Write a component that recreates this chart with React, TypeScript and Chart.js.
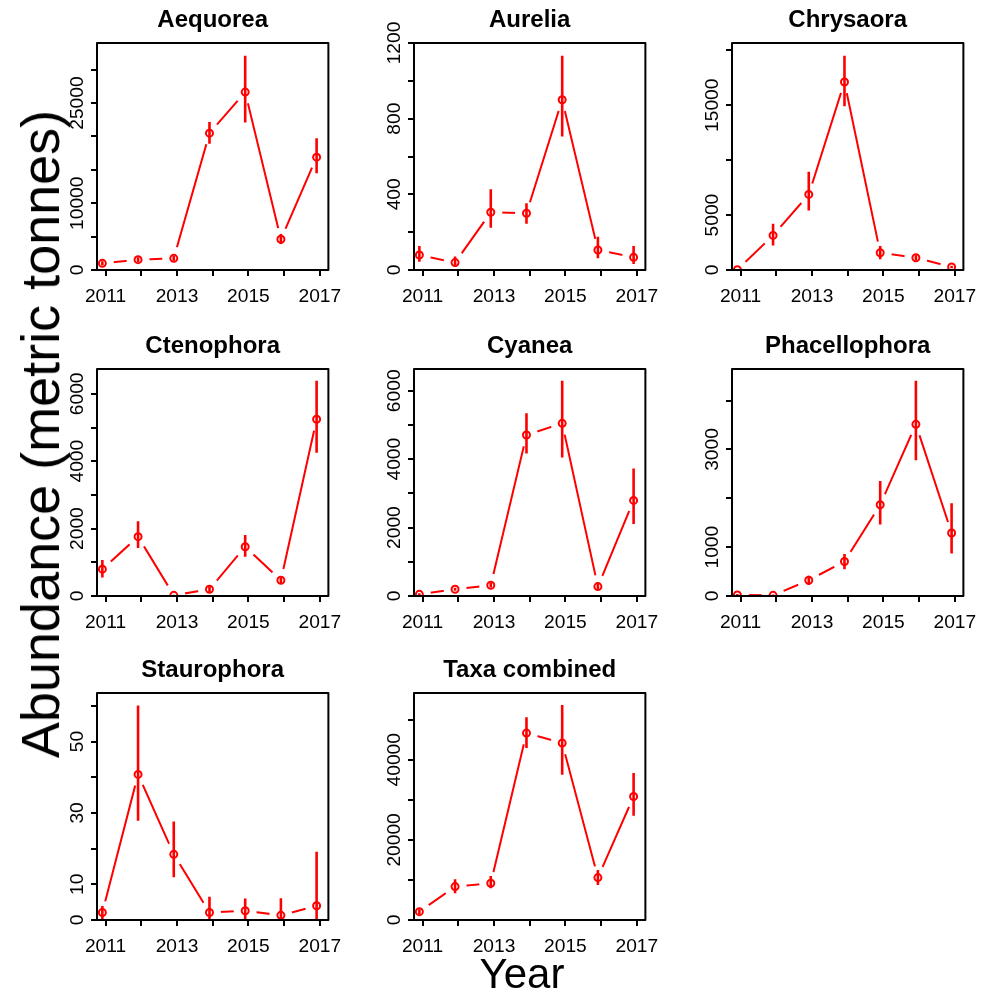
import React, { useEffect, useRef } from 'react';
import { Chart, registerables } from 'chart.js';

Chart.register(...registerables);

// ---------- data ----------
const YEARS = [2011, 2012, 2013, 2014, 2015, 2016, 2017];
const X_LABELED = [2011, 2013, 2015, 2017];
const TAXA = ['Aequorea', 'Aurelia', 'Chrysaora', 'Ctenophora', 'Cyanea', 'Phacellophora', 'Staurophora', 'Taxa combined'];

const AEQUOREA_MEAN = [1000, 1550, 1750, 20500, 26650, 4600, 16900];
const AEQUOREA_LO = [700, 1200, 1400, 18900, 22100, 3900, 14500];
const AEQUOREA_HI = [1300, 1900, 2100, 22150, 32100, 5400, 19750];

const AURELIA_MEAN = [79, 39, 305, 300, 900, 106, 67];
const AURELIA_LO = [44, 18, 224, 244, 706, 62, 32];
const AURELIA_HI = [127, 71, 427, 353, 1133, 176, 127];

const CHRYSAORA_MEAN = [20, 3150, 6880, 17120, 1575, 1120, 270];
const CHRYSAORA_LO = [0, 2240, 5420, 14900, 970, 900, 150];
const CHRYSAORA_HI = [40, 4210, 8940, 19515, 2180, 1340, 390];

const CTENOPHORA_MEAN = [796, 1761, 20, 199, 1463, 468, 5244];
const CTENOPHORA_LO = [547, 1423, 0, 120, 1164, 380, 4249];
const CTENOPHORA_HI = [1065, 2219, 40, 280, 1811, 560, 6388];

const CYANEA_MEAN = [49, 196, 314, 4706, 5049, 275, 2794];
const CYANEA_LO = [20, 150, 250, 4167, 4049, 200, 2108];
const CYANEA_HI = [80, 240, 380, 5343, 6294, 350, 3725];

const PHACELLOPHORA_MEAN = [21, 14, 323, 707, 1867, 3514, 1290];
const PHACELLOPHORA_LO = [5, 0, 226, 549, 1462, 2780, 872];
const PHACELLOPHORA_HI = [40, 30, 412, 858, 2354, 4406, 1901];

const STAUROPHORA_MEAN = [2.1, 40.8, 18.4, 2.1, 2.6, 1.3, 4.0];
const STAUROPHORA_LO = [0.2, 27.8, 12.0, 0, 0, 0, 0];
const STAUROPHORA_HI = [3.9, 60.1, 27.6, 6.5, 6.0, 6.1, 19.1];

const COMBINED_MEAN = [2083, 8333, 9167, 46667, 44167, 10583, 30833];
const COMBINED_LO = [1500, 6667, 7917, 42917, 36250, 8750, 26000];
const COMBINED_HI = [2700, 10167, 11000, 50583, 53667, 12500, 36667];

const MEANS = [AEQUOREA_MEAN, AURELIA_MEAN, CHRYSAORA_MEAN, CTENOPHORA_MEAN, CYANEA_MEAN, PHACELLOPHORA_MEAN, STAUROPHORA_MEAN, COMBINED_MEAN];
const LOWERS = [AEQUOREA_LO, AURELIA_LO, CHRYSAORA_LO, CTENOPHORA_LO, CYANEA_LO, PHACELLOPHORA_LO, STAUROPHORA_LO, COMBINED_LO];
const UPPERS = [AEQUOREA_HI, AURELIA_HI, CHRYSAORA_HI, CTENOPHORA_HI, CYANEA_HI, PHACELLOPHORA_HI, STAUROPHORA_HI, COMBINED_HI];

// axis settings per panel
const Y_MAX = [34000, 1200, 20667, 6736, 6637, 4647, 63.6, 56667];
const Y_STEP = [5000, 200, 5000, 1000, 1000, 1000, 10, 10000];
const Y_LABELED = [
  [0, 10000, 25000],
  [0, 400, 800, 1200],
  [0, 5000, 15000],
  [0, 2000, 4000, 6000],
  [0, 2000, 4000, 6000],
  [0, 1000, 3000],
  [0, 10, 30, 50],
  [0, 20000, 40000],
];

// ---------- style / layout ----------
const RED = '#ff0000';
const FONT = "'Liberation Sans', Arial, sans-serif";
const DODGE = -0.09; // points sit slightly left of the year ticks
const BOX_LEFT = [97, 414, 732];
const BOX_TOP = [43, 369, 693];
const BOX_W = 242;
const BOX_H = 227;
const YW = 60;
const TH = 43;
const XH = 45;
const RP = 12;
const CANVAS_W = YW + BOX_W + RP;
const CANVAS_H = TH + BOX_H + XH;

function buildConfig(i: number): any {
  const pts = YEARS.map((yr, k) => ({ x: yr + DODGE, y: MEANS[i][k] }));
  const err: any[] = [];
  YEARS.forEach((yr, k) => {
    err.push({ x: yr + DODGE, y: LOWERS[i][k] });
    err.push({ x: yr + DODGE, y: UPPERS[i][k] });
    err.push({ x: yr + DODGE, y: null });
  });
  const span = YEARS[YEARS.length - 1] - YEARS[0];
  const yTicks: number[] = [];
  for (let k = 0; k * Y_STEP[i] <= Y_MAX[i] + 1e-9; k++) yTicks.push(k * Y_STEP[i]);

  const gridOpts = {
    display: true,
    drawOnChartArea: false,
    drawTicks: true,
    tickLength: 6,
    lineWidth: 2,
    color: '#000',
    tickColor: '#000',
  };

  const panelPlugin = {
    id: 'panelDecor' + i,
    afterDatasetsDraw(chart: any) {
      const { ctx, chartArea: ca } = chart;
      ctx.save();
      ctx.strokeStyle = '#000';
      ctx.lineWidth = 2;
      ctx.lineJoin = 'round';
      ctx.strokeRect(ca.left, ca.top, ca.right - ca.left, ca.bottom - ca.top);
      ctx.restore();
    },
    afterDraw(chart: any) {
      const { ctx, chartArea: ca } = chart;
      const ys = chart.scales.y;
      ctx.save();
      ctx.font = `19.2px ${FONT}`;
      ctx.fillStyle = '#000';
      ctx.textAlign = 'center';
      ctx.textBaseline = 'alphabetic';
      Y_LABELED[i].forEach((v) => {
        const py = ys.getPixelForValue(v);
        ctx.save();
        ctx.translate(ca.left - 14, py);
        ctx.rotate(-Math.PI / 2);
        ctx.fillText(String(v), 0, 0);
        ctx.restore();
      });
      ctx.restore();
    },
  };

  return {
    type: 'line',
    data: {
      datasets: [
        { data: pts, borderColor: RED, borderWidth: 2, pointRadius: 0, tension: 0, order: 4, clip: 0 },
        { data: pts, showLine: false, pointRadius: 11.5, pointBorderWidth: 0, pointBackgroundColor: '#ffffff', pointBorderColor: '#ffffff', order: 3, clip: 0 },
        { data: err, borderColor: RED, borderWidth: 2.6, pointRadius: 0, spanGaps: false, order: 2, clip: 0 },
        { data: pts, showLine: false, pointRadius: 3.5, pointBorderWidth: 2, pointBorderColor: RED, pointBackgroundColor: 'rgba(0,0,0,0)', order: 1, clip: 0 },
      ],
    },
    options: {
      responsive: false,
      animation: false,
      events: [],
      devicePixelRatio: 1,
      layout: { padding: { left: 0, right: RP, top: 0, bottom: 0 } },
      plugins: {
        legend: { display: false },
        tooltip: { enabled: false },
        title: {
          display: true,
          text: TAXA[i],
          fullSize: false,
          color: '#000',
          font: { family: FONT, size: 24, weight: 'bold', lineHeight: 1 },
          padding: { top: 8.7, bottom: 10.3 },
        },
      },
      scales: {
        x: {
          type: 'linear',
          min: YEARS[0] - 0.04 * span,
          max: YEARS[YEARS.length - 1] + 0.04 * span,
          afterBuildTicks: (s: any) => { s.ticks = YEARS.map((v) => ({ value: v })); },
          afterFit: (s: any) => { s.height = XH; },
          grid: gridOpts,
          border: { display: false },
          ticks: {
            autoSkip: false,
            maxRotation: 0,
            minRotation: 0,
            padding: 9,
            color: '#000',
            font: { family: FONT, size: 19.2, lineHeight: 1.2 },
            callback: (v: any) => (X_LABELED.includes(Number(v)) ? String(v) : ''),
          },
        },
        y: {
          type: 'linear',
          min: 0,
          max: Y_MAX[i],
          afterBuildTicks: (s: any) => { s.ticks = yTicks.map((v) => ({ value: v })); },
          afterFit: (s: any) => { s.width = YW; },
          grid: gridOpts,
          border: { display: false },
          ticks: { display: false },
        },
      },
    },
    plugins: [panelPlugin],
  };
}

function Panel({ index }: { index: number }) {
  const ref = useRef<HTMLCanvasElement | null>(null);
  useEffect(() => {
    if (!ref.current) return;
    const chart = new Chart(ref.current, buildConfig(index));
    return () => chart.destroy();
  }, [index]);
  const col = index % 3;
  const row = Math.floor(index / 3);
  return (
    <canvas
      ref={ref}
      width={CANVAS_W}
      height={CANVAS_H}
      style={{
        position: 'absolute',
        left: BOX_LEFT[col] - YW,
        top: BOX_TOP[row] - TH,
        width: CANVAS_W,
        height: CANVAS_H,
        display: 'block',
      }}
    />
  );
}

export default function App() {
  return (
    <div
      style={{
        position: 'absolute',
        left: 0,
        top: 0,
        width: 989,
        height: 992,
        background: '#ffffff',
        overflow: 'hidden',
        fontFamily: FONT,
      }}
    >
      {TAXA.map((_, i) => (
        <Panel key={i} index={i} />
      ))}
      <div
        style={{
          position: 'absolute',
          left: 40,
          top: 434,
          transform: 'translate(-50%, -50%) rotate(-90deg)',
          fontSize: 54,
          lineHeight: 1,
          whiteSpace: 'nowrap',
          color: '#000',
        }}
      >
        Abundance (metric tonnes)
      </div>
      <div
        style={{
          position: 'absolute',
          left: 522,
          top: 953,
          transform: 'translateX(-50%)',
          fontSize: 42,
          lineHeight: 1,
          whiteSpace: 'nowrap',
          color: '#000',
        }}
      >
        Year
      </div>
    </div>
  );
}
